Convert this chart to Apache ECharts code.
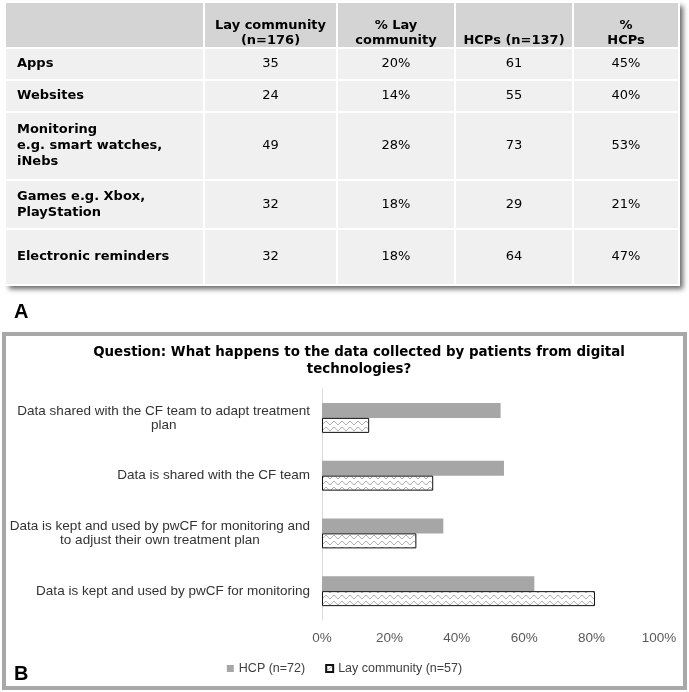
<!DOCTYPE html>
<html>
<head>
<meta charset="utf-8">
<script src="https://cdn.jsdelivr.net/npm/echarts@6/dist/echarts.min.js"></script>
<style>html,body{margin:0;padding:0;background:#fff}#main{width:689px;height:692px}</style>
</head>
<body>
<div id="main"></div>
<script>
// ---------- Panel A: table data ----------
const tableColumns = ['Lay community\n(n=176)', '% Lay\ncommunity', 'HCPs (n=137)', '%\nHCPs'];
const tableRows = ['Apps', 'Websites', 'Monitoring\ne.g. smart watches,\niNebs', 'Games e.g. Xbox,\nPlayStation', 'Electronic reminders'];
const layCounts = [35, 24, 49, 32, 32];
const layPercents = [20, 14, 28, 18, 18];
const hcpCounts = [61, 55, 73, 29, 64];
const hcpPercents = [45, 40, 53, 21, 47];

// ---------- Panel B: bar chart data ----------
const categories = [
  'Data shared with the CF team to adapt treatment\nplan',
  'Data is shared with the CF team',
  'Data is kept and used by pwCF for monitoring and\nto adjust their own treatment plan',
  'Data is kept and used by pwCF for monitoring'
];
const hcpValues = [53, 54, 36, 63];
const layValues = [14, 33, 28, 81];
const seriesNames = ['HCP (n=72)', 'Lay community (n=57)'];
const chartTitle = 'Question: What happens to the data collected by patients from digital\ntechnologies?';

// ---------- layout (styles only) ----------
const tableBox = { left: 5, top: 2, headerHeight: 46, firstColWidth: 199 };
const colSizes = [133, 118, 118, 106];
const rowSizes = [32, 32, 68, 49, 56];

const tableFont = 'DejaVu Sans';
const chartFont = 'Liberation Sans';
const headerFill = '#d4d4d4';
const bodyFill = '#f0f0f0';

const tableWidth = tableBox.firstColWidth + colSizes.reduce((a, b) => a + b, 0);
const tableHeight = tableBox.headerHeight + rowSizes.reduce((a, b) => a + b, 0);

const tableValues = [
  layCounts.map(String),
  layPercents.map(v => v + '%'),
  hcpCounts.map(String),
  hcpPercents.map(v => v + '%')
];
const bodyCells = [];
tableValues.forEach((col, ci) => {
  col.forEach((txt, ri) => {
    bodyCells.push({ coord: [ci, ri], value: txt });
  });
});

function makeWave() {
  const c = document.createElement('canvas');
  c.width = 8; c.height = 6;
  const ctx = c.getContext('2d');
  ctx.fillStyle = '#ffffff';
  ctx.fillRect(0, 0, 8, 6);
  ctx.strokeStyle = '#9a9a9a';
  ctx.lineWidth = 1;
  ctx.beginPath();
  for (let x = -1; x <= 9; x += 0.5) {
    const y = 3 + 1.6 * Math.sin(2 * Math.PI * x / 8);
    if (x === -1) ctx.moveTo(x, y); else ctx.lineTo(x, y);
  }
  ctx.stroke();
  return c;
}
const wave = makeWave();

const chart = echarts.init(document.getElementById('main'), null, { renderer: 'canvas' });

const option = {
  backgroundColor: '#ffffff',
  animation: false,
  title: [
    {
      text: chartTitle, left: 354, top: 339, textAlign: 'center',
      textStyle: { fontFamily: tableFont, fontWeight: 'bold', fontSize: 13.4, lineHeight: 17, color: '#000' }
    },
    { text: 'A', left: 9, top: 297, textStyle: { fontFamily: chartFont, fontWeight: 'bold', fontSize: 20, color: '#000' } },
    { text: 'B', left: 9, top: 659, textStyle: { fontFamily: chartFont, fontWeight: 'bold', fontSize: 20, color: '#000' } }
  ],
  graphic: [
    {
      type: 'rect', z: -100,
      shape: { x: tableBox.left, y: tableBox.top, width: tableWidth, height: tableHeight },
      style: { fill: bodyFill, shadowColor: 'rgba(0,0,0,0.6)', shadowBlur: 5, shadowOffsetX: 4, shadowOffsetY: 4 }
    },
    {
      type: 'rect', z: -100,
      shape: { x: 4, y: 334, width: 681, height: 354 },
      style: { fill: 'none', stroke: '#a8a8a8', lineWidth: 4 }
    }
  ],
  matrix: {
    left: tableBox.left, top: tableBox.top, width: tableWidth, height: tableHeight,
    z: 2,
    backgroundStyle: { color: bodyFill, borderWidth: 0 },
    x: {
      levelSize: tableBox.headerHeight,
      data: tableColumns.map((c, i) => ({ value: c, size: colSizes[i] })),
      itemStyle: { color: headerFill, borderColor: '#ffffff', borderWidth: 2 },
      label: { position: 'insideBottom', padding: [0, 0, 0, 0], fontFamily: tableFont, fontWeight: 'bold', fontSize: 13, lineHeight: 15, color: '#000' },
      dividerLineStyle: { color: '#ffffff', width: 2 }
    },
    y: {
      levelSize: tableBox.firstColWidth,
      data: tableRows.map((r, i) => ({ value: r, size: rowSizes[i] })),
      itemStyle: { color: bodyFill, borderColor: '#ffffff', borderWidth: 2 },
      label: { position: 'insideLeft', padding: [0, 0, 0, 12], fontFamily: tableFont, fontWeight: 'bold', fontSize: 13, lineHeight: 16, color: '#000' },
      dividerLineStyle: { color: '#ffffff', width: 2 }
    },
    corner: { itemStyle: { color: headerFill, borderColor: '#ffffff', borderWidth: 2 } },
    body: {
      data: bodyCells,
      itemStyle: { color: bodyFill, borderColor: '#ffffff', borderWidth: 2 },
      label: { fontFamily: tableFont, fontSize: 13, color: '#000' }
    }
  },
  grid: { left: 322, width: 337, top: 389, height: 231, outerBoundsMode: 'none', containLabel: false },
  xAxis: {
    type: 'value', min: 0, max: 100, interval: 20,
    axisLine: { show: false }, axisTick: { show: false }, splitLine: { show: false },
    axisLabel: { formatter: '{value}%', fontFamily: chartFont, fontSize: 13.5, color: '#595959', margin: 11 }
  },
  yAxis: {
    type: 'category', data: categories, inverse: true,
    axisLine: { show: true, lineStyle: { color: '#d9d9d9', width: 1 } },
    axisTick: { show: false },
    axisLabel: {
      margin: 12, align: 'right',
      formatter: v => v.split('\n').map(l => '{c|' + l + '}').join('\n'),
      rich: { c: { align: 'center', fontFamily: chartFont, fontSize: 13.5, lineHeight: 14, color: '#333333' } }
    }
  },
  legend: {
    top: 657, left: 'center', itemWidth: 7, itemHeight: 7, itemGap: 20, icon: 'rect',
    textStyle: { fontFamily: chartFont, fontSize: 12.5, color: '#404040' },
    data: seriesNames
  },
  series: [
    {
      name: seriesNames[0], type: 'bar', data: hcpValues, barWidth: 15, barGap: '0%',
      itemStyle: { color: '#a6a6a6' }
    },
    {
      name: seriesNames[1], type: 'bar', data: layValues, barWidth: 15, barGap: '0%',
      itemStyle: { color: { image: wave, repeat: 'repeat' }, borderColor: '#111', borderWidth: 1 }
    }
  ]
};
chart.setOption(option);
</script>
</body>
</html>
